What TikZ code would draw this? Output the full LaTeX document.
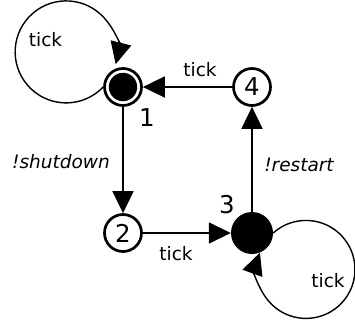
\documentclass[tikz,border=0pt]{standalone}
\usepackage{fontspec}
\setmainfont{DejaVu Sans}
\usepackage{tikz}
\usetikzlibrary{arrows.meta,positioning}
\newcommand{\trfont}{\fontsize{18.5}{21}\selectfont}
\newcommand{\numfont}{\fontsize{24.5}{28}\selectfont}

\begin{document}
\begin{tikzpicture}[x=1pt,y=1pt,node distance=146pt and 129pt,on grid,>={Triangle[length=22pt,width=21pt]},every node/.style={font=\trfont}]
\tikzstyle{state}=[draw,circle,line width=2.7pt,minimum size=37pt,inner sep=0pt,font=\numfont]
\tikzstyle{final}=[state,path picture={\fill (path picture bounding box.center) circle (14.2pt);}]
\tikzstyle{active}=[circle,fill=black,minimum size=42pt,inner sep=0pt]
\tikzstyle{edge}=[line width=1.7pt]
\tikzstyle{loopline}=[line width=1.4pt]
\useasboundingbox (0,0) rectangle (355,322);
\node[final] (n1) at (123,235) {};
\node[state,right=of n1] (n4) {4};
\node[state,below=of n1] (n2) {2};
\node[active,right=of n2] (n3) {};
\draw[edge,->] (n4)--(n1);
\draw[edge,->] (n1)--(n2);
\draw[edge,->] (n2)--(n3);
\draw[edge,->] (n3)--(n4);
\draw[loopline,->] (n1.west) arc[start angle=-43.5,end angle=-374,radius=51];
\draw[loopline,->] (n3.east) arc[start angle=132,end angle=-200,radius=49];
% labels
\node[anchor=base] (t11) at (45.5,276) {tick};
\node[anchor=base] (t41) at (200,246) {tick};
\node[anchor=base,font=\trfont\itshape] (t12) at (61,154) {!shutdown};
\node[anchor=base,font=\numfont] (l1) at (147,196) {1};
\node[anchor=base,font=\numfont] (l3) at (227,109) {3};
\node[anchor=base] (t23) at (176,62) {tick};
\node[anchor=base,font=\trfont\itshape] (t34) at (299,151) {!restart};
\node[anchor=base] (t33) at (328,35) {tick};
\end{tikzpicture}
\end{document}
